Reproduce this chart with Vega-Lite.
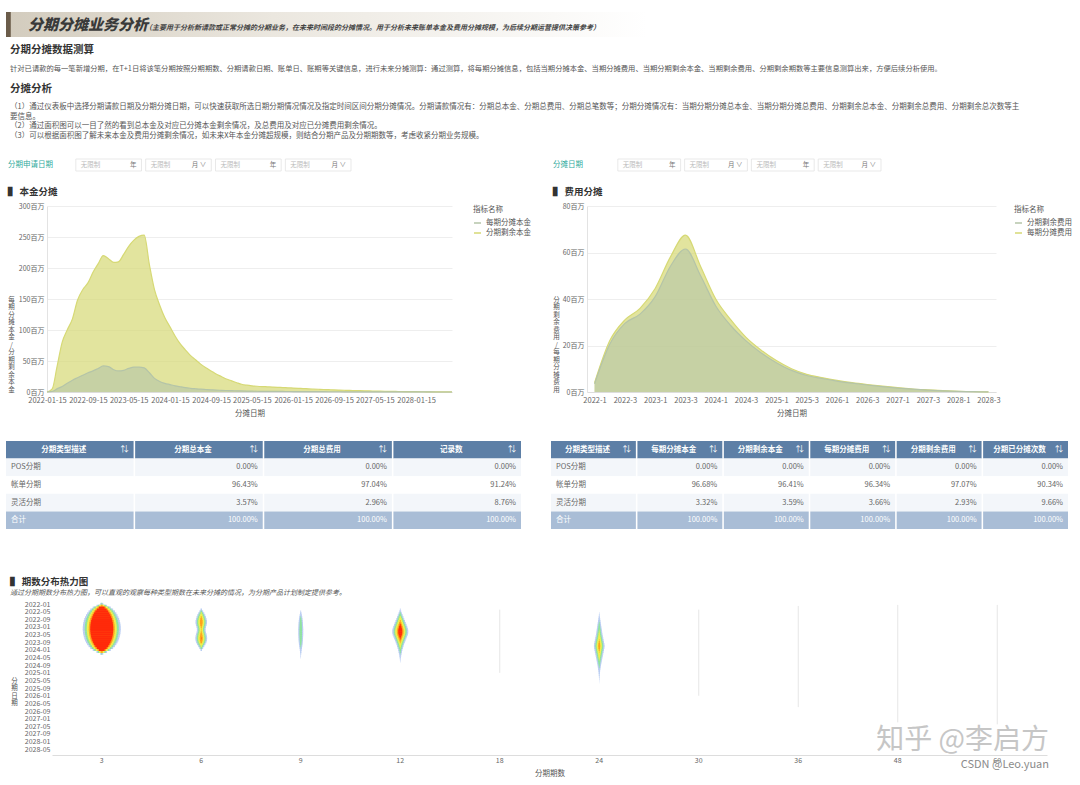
{
  "$schema": "https://vega.github.io/schema/vega-lite/v6.json",
  "background": "white",
  "padding": {"left": 6, "top": 12, "right": 4, "bottom": 0},
  "spacing": 8,
  "resolve": {"scale": {"color": "independent"}, "legend": {"color": "independent"}},
  "config": {
    "font": "Noto Sans CJK SC",
    "view": {"stroke": null},
    "axis": {"labelFontSize": 7, "labelColor": "#666", "titleFontSize": 7.5, "titleColor": "#555", "titleFontWeight": "normal", "ticks": false, "domainColor": "#dddddd", "gridColor": "#eeeeee"},
    "legend": {"titleFontSize": 7.5, "titleFontWeight": "normal", "titleColor": "#555", "labelFontSize": 7.5, "labelColor": "#555", "symbolType": "stroke", "symbolStrokeWidth": 1.5, "symbolSize": 50, "rowPadding": 2},
    "title": {"color": "#333", "fontWeight": "bold", "anchor": "start", "subtitleColor": "#555"}
  },
  "vconcat": [
    {
      "width": 1068, "height": 25,
      "view": {"stroke": null, "fill": {"gradient": "linear", "x1": 0, "y1": 0, "x2": 1, "y2": 0, "stops": [{"offset": 0, "color": "#6b5c4a"}, {"offset": 0.004, "color": "#6b5c4a"}, {"offset": 0.005, "color": "#d3ccbe"}, {"offset": 0.25, "color": "#ebe7df"}, {"offset": 0.6, "color": "#ffffff"}]}},
      "title": {"text": "分期分摊业务分析", "anchor": "start", "offset": -21, "dx": 22, "fontSize": 15, "fontWeight": 900, "fontStyle": "italic", "color": "#3a3a3a"},
      "data": {"values": [{"t": "（主要用于分析新请款或正常分摊的分期业务，在未来时间段的分摊情况。用于分析未来账单本金及费用分摊规模，为后续分期运营提供决策参考）"}]},
      "mark": {"type": "text", "align": "left", "dx": -395, "dy": 3, "fontSize": 7, "fontStyle": "italic", "fontWeight": "bold", "color": "#444"},
      "encoding": {"text": {"field": "t", "type": "nominal"}}
    },
    {
      "width": 1065, "height": 1,
      "data": {"values": []},
      "mark": "text",
      "title": {"text": "分期分摊数据测算", "dx": 4, "subtitle": "针对已请款的每一笔新增分期，在T+1日将该笔分期按照分期期数、分期请款日期、账单日、账期等关键信息，进行未来分摊测算：通过测算，将每期分摊信息，包括当期分摊本金、当期分摊费用、当期分期剩余本金、当期剩余费用、分期剩余期数等主要信息测算出来，方便后续分析使用。", "fontSize": 10.5, "subtitleFontSize": 7.3, "subtitlePadding": 9, "offset": 2}
    },
    {
      "width": 1065, "height": 9,
      "data": {"values": []},
      "mark": "text",
      "title": {"text": "分摊分析", "dx": 4, "subtitle": ["（1）通过仪表板中选择分期请款日期及分期分摊日期，可以快速获取所选日期分期情况情况及指定时间区间分期分摊情况。分期请款情况有：分期总本金、分期总费用、分期总笔数等；分期分摊情况有：当期分期分摊总本金、当期分期分摊总费用、分期剩余总本金、分期剩余总费用、分期剩余总次数等主", "要信息。", "（2）通过面积图可以一目了然的看到总本金及对应已分摊本金剩余情况，及总费用及对应已分摊费用剩余情况。", "（3）可以根据面积图了解未来本金及费用分摊剩余情况，如未来X年本金分摊超规模，则结合分期产品及分期期数等，考虑收紧分期业务规模。"], "fontSize": 10.5, "subtitleFontSize": 7.5, "subtitleLineHeight": 9.5, "subtitlePadding": 9, "offset": 2}
    },
    {
      "spacing": 20,
      "resolve": {"scale": {"color": "independent"}, "legend": {"color": "independent"}},
      "hconcat": [
        {
          "spacing": 24,
          "resolve": {"scale": {"color": "independent"}, "legend": {"color": "independent"}},
          "vconcat": [
            {
              "spacing": 14,
              "resolve": {"scale": {"color": "independent"}, "legend": {"color": "independent"}},
              "vconcat": [
                {
                  "width": 345, "height": 12,
                  "data": {"values": [{"b": "l", "t": "分期申请日期"}, {"b": "a", "t": "无限制", "u": "年"}, {"b": "b", "t": "无限制", "u": "月 ∨"}, {"b": "c", "t": "无限制", "u": "年"}, {"b": "d", "t": "无限制", "u": "月 ∨"}]},
                  "encoding": {"x": {"field": "b", "type": "ordinal", "scale": {"domain": ["l", "a", "b", "c", "d"], "paddingInner": 0.06, "paddingOuter": 0}, "axis": null}},
                  "layer": [
                    {"transform": [{"filter": "datum.b !== 'l'"}], "mark": {"type": "rect", "fill": "white", "stroke": "#e3e3e3", "strokeWidth": 0.8}},
                    {"transform": [{"filter": "datum.b === 'l'"}], "mark": {"type": "text", "align": "left", "dx": 2, "fontSize": 7.5, "color": "#2faa9c"}, "encoding": {"x": {"field": "b", "type": "ordinal", "bandPosition": 0}, "text": {"field": "t", "type": "nominal"}}},
                    {"transform": [{"filter": "datum.b !== 'l'"}], "mark": {"type": "text", "align": "left", "dx": 5, "fontSize": 6.5, "color": "#bbbbbb"}, "encoding": {"x": {"field": "b", "type": "ordinal", "bandPosition": 0}, "text": {"field": "t", "type": "nominal"}}},
                    {"transform": [{"filter": "datum.b !== 'l'"}], "mark": {"type": "text", "align": "right", "dx": -5, "fontSize": 6.5, "color": "#777777"}, "encoding": {"x": {"field": "b", "type": "ordinal", "bandPosition": 1}, "text": {"field": "u", "type": "nominal"}}}
                  ]
                },
                {
                  "spacing": 0,
                  "resolve": {"scale": {"color": "independent"}, "legend": {"color": "independent"}},
                  "hconcat": [
                    {"width": 1, "height": 1, "data": {"values": []}, "mark": "text"},
                    {
                      "width": 405, "height": 186,
                      "title": {"text": "▌ 本金分摊", "frame": "bounds", "fontSize": 9.5, "offset": 6},
                      "data": {"values": [
                        {"d":"2022-01-15","分期剩余本金":0,"每期分摊本金":0},{"d":"2022-02-15","分期剩余本金":5,"每期分摊本金":1},{"d":"2022-03-15","分期剩余本金":40,"每期分摊本金":5},{"d":"2022-04-15","分期剩余本金":80,"每期分摊本金":9},{"d":"2022-05-15","分期剩余本金":100,"每期分摊本金":14},{"d":"2022-06-15","分期剩余本金":118,"每期分摊本金":19},{"d":"2022-07-15","分期剩余本金":148,"每期分摊本金":23},{"d":"2022-08-15","分期剩余本金":165,"每期分摊本金":27},{"d":"2022-09-15","分期剩余本金":176,"每期分摊本金":31},{"d":"2022-10-15","分期剩余本金":193,"每期分摊本金":34},{"d":"2022-11-15","分期剩余本金":207,"每期分摊本金":38},{"d":"2022-12-15","分期剩余本金":220,"每期分摊本金":42},
                        {"d":"2023-01-15","分期剩余本金":215,"每期分摊本金":41},{"d":"2023-02-15","分期剩余本金":209,"每期分摊本金":36},{"d":"2023-03-15","分期剩余本金":210,"每期分摊本金":34},{"d":"2023-04-15","分期剩余本金":222,"每期分摊本金":35},{"d":"2023-05-15","分期剩余本金":235,"每期分摊本金":38},{"d":"2023-06-15","分期剩余本金":245,"每期分摊本金":40},{"d":"2023-07-15","分期剩余本金":251,"每期分摊本金":40},{"d":"2023-08-15","分期剩余本金":253,"每期分摊本金":39},{"d":"2023-09-15","分期剩余本金":205,"每期分摊本金":31},{"d":"2023-10-15","分期剩余本金":165,"每期分摊本金":22},{"d":"2023-11-15","分期剩余本金":140,"每期分摊本金":17},{"d":"2023-12-15","分期剩余本金":120,"每期分摊本金":14},
                        {"d":"2024-01-15","分期剩余本金":105,"每期分摊本金":12},{"d":"2024-02-15","分期剩余本金":90,"每期分摊本金":10},{"d":"2024-03-15","分期剩余本金":78,"每期分摊本金":8.5},{"d":"2024-04-15","分期剩余本金":68,"每期分摊本金":7},{"d":"2024-05-15","分期剩余本金":59,"每期分摊本金":6},{"d":"2024-06-15","分期剩余本金":52,"每期分摊本金":5.2},{"d":"2024-07-15","分期剩余本金":45,"每期分摊本金":4.5},{"d":"2024-08-15","分期剩余本金":39,"每期分摊本金":4},{"d":"2024-09-15","分期剩余本金":34,"每期分摊本金":3.5},{"d":"2024-10-15","分期剩余本金":29,"每期分摊本金":3},{"d":"2024-11-15","分期剩余本金":25,"每期分摊本金":2.7},{"d":"2024-12-15","分期剩余本金":21,"每期分摊本金":2.4},
                        {"d":"2025-01-15","分期剩余本金":18,"每期分摊本金":2.1},{"d":"2025-02-15","分期剩余本金":15,"每期分摊本金":1.9},{"d":"2025-03-15","分期剩余本金":12.5,"每期分摊本金":1.7},{"d":"2025-04-15","分期剩余本金":11,"每期分摊本金":1.5},{"d":"2025-05-15","分期剩余本金":10,"每期分摊本金":1.3},{"d":"2025-06-15","分期剩余本金":9.3,"每期分摊本金":1.2},{"d":"2025-07-15","分期剩余本金":8.8,"每期分摊本金":1.1},{"d":"2025-08-15","分期剩余本金":8.4,"每期分摊本金":1},{"d":"2025-09-15","分期剩余本金":8,"每期分摊本金":0.95},{"d":"2025-10-15","分期剩余本金":7.6,"每期分摊本金":0.9},{"d":"2025-11-15","分期剩余本金":7.2,"每期分摊本金":0.85},{"d":"2025-12-15","分期剩余本金":6.8,"每期分摊本金":0.8},
                        {"d":"2026-01-15","分期剩余本金":6.4,"每期分摊本金":0.75},{"d":"2026-02-15","分期剩余本金":6,"每期分摊本金":0.7},{"d":"2026-03-15","分期剩余本金":5.6,"每期分摊本金":0.65},{"d":"2026-04-15","分期剩余本金":5.2,"每期分摊本金":0.6},{"d":"2026-05-15","分期剩余本金":4.8,"每期分摊本金":0.55},{"d":"2026-06-15","分期剩余本金":4.4,"每期分摊本金":0.5},{"d":"2026-07-15","分期剩余本金":4,"每期分摊本金":0.47},{"d":"2026-08-15","分期剩余本金":3.7,"每期分摊本金":0.44},{"d":"2026-09-15","分期剩余本金":3.4,"每期分摊本金":0.41},{"d":"2026-10-15","分期剩余本金":3.1,"每期分摊本金":0.38},{"d":"2026-11-15","分期剩余本金":2.8,"每期分摊本金":0.35},{"d":"2026-12-15","分期剩余本金":2.5,"每期分摊本金":0.32},
                        {"d":"2027-01-15","分期剩余本金":2.3,"每期分摊本金":0.3},{"d":"2027-02-15","分期剩余本金":2.1,"每期分摊本金":0.28},{"d":"2027-03-15","分期剩余本金":1.9,"每期分摊本金":0.26},{"d":"2027-04-15","分期剩余本金":1.7,"每期分摊本金":0.24},{"d":"2027-05-15","分期剩余本金":1.5,"每期分摊本金":0.22},{"d":"2027-06-15","分期剩余本金":1.35,"每期分摊本金":0.2},{"d":"2027-07-15","分期剩余本金":1.2,"每期分摊本金":0.18},{"d":"2027-08-15","分期剩余本金":1.05,"每期分摊本金":0.16},{"d":"2027-09-15","分期剩余本金":0.9,"每期分摊本金":0.14},{"d":"2027-10-15","分期剩余本金":0.8,"每期分摊本金":0.12},{"d":"2027-11-15","分期剩余本金":0.7,"每期分摊本金":0.1},{"d":"2027-12-15","分期剩余本金":0.6,"每期分摊本金":0.09},
                        {"d":"2028-01-15","分期剩余本金":0.5,"每期分摊本金":0.08},{"d":"2028-02-15","分期剩余本金":0.42,"每期分摊本金":0.07},{"d":"2028-03-15","分期剩余本金":0.35,"每期分摊本金":0.06},{"d":"2028-04-15","分期剩余本金":0.28,"每期分摊本金":0.05},{"d":"2028-05-15","分期剩余本金":0.22,"每期分摊本金":0.04},{"d":"2028-06-15","分期剩余本金":0.16,"每期分摊本金":0.03},{"d":"2028-07-15","分期剩余本金":0.1,"每期分摊本金":0.02},{"d":"2028-08-15","分期剩余本金":0.05,"每期分摊本金":0.01}
                      ]},
                      "transform": [{"fold": ["分期剩余本金", "每期分摊本金"], "as": ["指标名称", "val"]}],
                      "encoding": {
                        "x": {"field": "d", "type": "temporal", "scale": {"type": "utc", "nice": false, "domain": [{"year": 2022, "month": 1, "date": 15, "utc": true}, {"year": 2028, "month": 8, "date": 15, "utc": true}]},
                          "axis": {"title": "分摊日期", "format": "%Y-%m-%d", "labelOverlap": false, "labelFlush": false, "grid": false, "labelPadding": 4, "titlePadding": 6, "labelFontSize": 7.5,
                            "values": [{"year": 2022, "month": 1, "date": 15, "utc": true}, {"year": 2022, "month": 9, "date": 15, "utc": true}, {"year": 2023, "month": 5, "date": 15, "utc": true}, {"year": 2024, "month": 1, "date": 15, "utc": true}, {"year": 2024, "month": 9, "date": 15, "utc": true}, {"year": 2025, "month": 5, "date": 15, "utc": true}, {"year": 2026, "month": 1, "date": 15, "utc": true}, {"year": 2026, "month": 9, "date": 15, "utc": true}, {"year": 2027, "month": 5, "date": 15, "utc": true}, {"year": 2028, "month": 1, "date": 15, "utc": true}]}},
                        "y": {"field": "val", "type": "quantitative", "stack": null, "scale": {"domain": [0, 300], "nice": false}, "axis": {"values": [0, 50, 100, 150, 200, 250, 300], "labelExpr": "datum.value + '百万'", "labelOverlap": false, "grid": true, "domain": true, "domainColor": "#e3e3e3", "labelPadding": 3, "titleAngle": 0, "titleAlign": "center", "titleBaseline": "middle", "titleX": -36, "titleY": 93, "titleLineHeight": 7.5, "titleFontSize": 6.5, "title": ["每","期","分","摊","本","金","/","分","期","剩","余","本","金"]}},
                        "color": {"field": "指标名称", "type": "nominal", "scale": {"domain": ["每期分摊本金", "分期剩余本金"], "range": ["#b4c4a8", "#d6d975"]}, "legend": {"title": "指标名称", "orient": "right", "offset": 18}}
                      },
                      "layer": [
                        {"transform": [{"filter": "datum['指标名称'] === '分期剩余本金'"}], "mark": {"type": "area", "interpolate": "monotone", "fillOpacity": 0.7, "line": {"strokeWidth": 1.2}}},
                        {"transform": [{"filter": "datum['指标名称'] === '每期分摊本金'"}], "mark": {"type": "area", "interpolate": "monotone", "fillOpacity": 0.6, "line": {"strokeWidth": 1.2, "color": "#a6b788"}}}
                      ]
                    }
                  ]
                }
              ]
            },
            {
              "width": 515, "height": 88,
              "data": {"values": [
                {"r":"表头","c":"分期类型描述"},{"r":"表头","c":"分期总本金"},{"r":"表头","c":"分期总费用"},{"r":"表头","c":"记录数"},
                {"r":"POS分期","c":"分期类型描述"},{"r":"POS分期","c":"分期总本金","v":0},{"r":"POS分期","c":"分期总费用","v":0},{"r":"POS分期","c":"记录数","v":0},
                {"r":"帐单分期","c":"分期类型描述"},{"r":"帐单分期","c":"分期总本金","v":0.9643},{"r":"帐单分期","c":"分期总费用","v":0.9704},{"r":"帐单分期","c":"记录数","v":0.9124},
                {"r":"灵活分期","c":"分期类型描述"},{"r":"灵活分期","c":"分期总本金","v":0.0357},{"r":"灵活分期","c":"分期总费用","v":0.0296},{"r":"灵活分期","c":"记录数","v":0.0876},
                {"r":"合计","c":"分期类型描述"},{"r":"合计","c":"分期总本金","v":1},{"r":"合计","c":"分期总费用","v":1},{"r":"合计","c":"记录数","v":1}
              ]},
              "encoding": {
                "x": {"field": "c", "type": "ordinal", "scale": {"domain": ["分期类型描述","分期总本金","分期总费用","记录数"], "paddingInner": 0.012, "paddingOuter": 0}, "axis": null},
                "y": {"field": "r", "type": "ordinal", "scale": {"domain": ["表头","POS分期","帐单分期","灵活分期","合计"], "paddingInner": 0, "paddingOuter": 0}, "axis": null}
              },
              "layer": [
                {"mark": {"type": "rect"}, "encoding": {"color": {"condition": [{"test": "datum.r === '表头'", "value": "#5d7fa6"}, {"test": "datum.r === '合计'", "value": "#a9bdd6"}, {"test": "datum.r === '帐单分期'", "value": "#ffffff"}], "value": "#f3f6fa"}}},
                {"transform": [{"filter": "datum.r === '表头'"}], "mark": {"type": "text", "fontSize": 7.5, "fontWeight": "bold", "color": "white", "dx": -6}, "encoding": {"text": {"field": "c", "type": "nominal"}}},
                {"transform": [{"filter": "datum.r === '表头'"}], "mark": {"type": "text", "fontSize": 8, "color": "white", "dx": -9}, "encoding": {"x": {"field": "c", "type": "ordinal", "bandPosition": 1}, "text": {"value": "⇅"}}},
                {"transform": [{"filter": "datum.r !== '表头' && datum.c === '分期类型描述'"}], "mark": {"type": "text", "fontSize": 7.5, "align": "left", "dx": 5}, "encoding": {"x": {"field": "c", "type": "ordinal", "bandPosition": 0}, "text": {"field": "r", "type": "nominal"}, "color": {"condition": {"test": "datum.r === '合计'", "value": "white"}, "value": "#666"}}},
                {"transform": [{"filter": "datum.r !== '表头' && datum.c !== '分期类型描述'"}], "mark": {"type": "text", "fontSize": 7.5, "align": "right", "dx": -5}, "encoding": {"x": {"field": "c", "type": "ordinal", "bandPosition": 1}, "text": {"field": "v", "type": "quantitative", "format": ".2%"}, "color": {"condition": {"test": "datum.r === '合计'", "value": "white"}, "value": "#666"}}}
              ]
            }
          ]
        },
        {
          "spacing": 24,
          "resolve": {"scale": {"color": "independent"}, "legend": {"color": "independent"}},
          "vconcat": [
            {
              "spacing": 14,
              "resolve": {"scale": {"color": "independent"}, "legend": {"color": "independent"}},
              "vconcat": [
                {
                  "width": 330, "height": 12,
                  "data": {"values": [{"b": "l", "t": "分摊日期"}, {"b": "a", "t": "无限制", "u": "年"}, {"b": "b", "t": "无限制", "u": "月 ∨"}, {"b": "c", "t": "无限制", "u": "年"}, {"b": "d", "t": "无限制", "u": "月 ∨"}]},
                  "encoding": {"x": {"field": "b", "type": "ordinal", "scale": {"domain": ["l", "a", "b", "c", "d"], "paddingInner": 0.06, "paddingOuter": 0}, "axis": null}},
                  "layer": [
                    {"transform": [{"filter": "datum.b !== 'l'"}], "mark": {"type": "rect", "fill": "white", "stroke": "#e3e3e3", "strokeWidth": 0.8}},
                    {"transform": [{"filter": "datum.b === 'l'"}], "mark": {"type": "text", "align": "left", "dx": 2, "fontSize": 7.5, "color": "#2faa9c"}, "encoding": {"x": {"field": "b", "type": "ordinal", "bandPosition": 0}, "text": {"field": "t", "type": "nominal"}}},
                    {"transform": [{"filter": "datum.b !== 'l'"}], "mark": {"type": "text", "align": "left", "dx": 5, "fontSize": 6.5, "color": "#bbbbbb"}, "encoding": {"x": {"field": "b", "type": "ordinal", "bandPosition": 0}, "text": {"field": "t", "type": "nominal"}}},
                    {"transform": [{"filter": "datum.b !== 'l'"}], "mark": {"type": "text", "align": "right", "dx": -5, "fontSize": 6.5, "color": "#777777"}, "encoding": {"x": {"field": "b", "type": "ordinal", "bandPosition": 1}, "text": {"field": "u", "type": "nominal"}}}
                  ]
                },
                {
                  "spacing": 0,
                  "resolve": {"scale": {"color": "independent"}, "legend": {"color": "independent"}},
                  "hconcat": [
                    {"width": 1, "height": 1, "data": {"values": []}, "mark": "text"},
                    {
                      "width": 409, "height": 186,
                      "title": {"text": "▌ 费用分摊", "frame": "bounds", "fontSize": 9.5, "offset": 6},
                      "data": {"values": [
                        {"q":"2022-1","每期分摊费用":4,"分期剩余费用":3.5},{"q":"2022-2","每期分摊费用":22,"分期剩余费用":20.5},{"q":"2022-3","每期分摊费用":31,"分期剩余费用":29.5},{"q":"2022-4","每期分摊费用":36,"分期剩余费用":33.5},
                        {"q":"2023-1","每期分摊费用":44.5,"分期剩余费用":41},{"q":"2023-2","每期分摊费用":58,"分期剩余费用":54},{"q":"2023-3","每期分摊费用":67.5,"分期剩余费用":61.5},{"q":"2023-4","每期分摊费用":54,"分期剩余费用":50},
                        {"q":"2024-1","每期分摊费用":40,"分期剩余费用":37},{"q":"2024-2","每期分摊费用":31,"分期剩余费用":28.5},{"q":"2024-3","每期分摊费用":23.5,"分期剩余费用":22},{"q":"2024-4","每期分摊费用":18,"分期剩余费用":16.8},
                        {"q":"2025-1","每期分摊费用":13.5,"分期剩余费用":12.6},{"q":"2025-2","每期分摊费用":10,"分期剩余费用":9.3},{"q":"2025-3","每期分摊费用":7.6,"分期剩余费用":7.1},{"q":"2025-4","每期分摊费用":6.2,"分期剩余费用":5.8},
                        {"q":"2026-1","每期分摊费用":5,"分期剩余费用":4.7},{"q":"2026-2","每期分摊费用":4,"分期剩余费用":3.8},{"q":"2026-3","每期分摊费用":3.2,"分期剩余费用":3},{"q":"2026-4","每期分摊费用":2.5,"分期剩余费用":2.3},
                        {"q":"2027-1","每期分摊费用":1.9,"分期剩余费用":1.7},{"q":"2027-2","每期分摊费用":1.3,"分期剩余费用":1.2},{"q":"2027-3","每期分摊费用":0.9,"分期剩余费用":0.8},{"q":"2027-4","每期分摊费用":0.55,"分期剩余费用":0.5},
                        {"q":"2028-1","每期分摊费用":0.3,"分期剩余费用":0.27},{"q":"2028-2","每期分摊费用":0.15,"分期剩余费用":0.13},{"q":"2028-3","每期分摊费用":0.05,"分期剩余费用":0.04}
                      ]},
                      "transform": [{"fold": ["每期分摊费用", "分期剩余费用"], "as": ["指标名称", "val"]}],
                      "encoding": {
                        "x": {"field": "q", "type": "ordinal", "sort": null, "scale": {"type": "point", "padding": 0.5},
                          "axis": {"title": "分摊日期", "labelAngle": 0, "labelOverlap": false, "grid": false, "labelPadding": 4, "titlePadding": 6, "labelFontSize": 7.5, "values": ["2022-1","2022-3","2023-1","2023-3","2024-1","2024-3","2025-1","2025-3","2026-1","2026-3","2027-1","2027-3","2028-1","2028-3"]}},
                        "y": {"field": "val", "type": "quantitative", "stack": null, "scale": {"domain": [0, 80], "nice": false}, "axis": {"values": [0, 20, 40, 60, 80], "labelExpr": "datum.value + '百万'", "labelOverlap": false, "grid": true, "domain": true, "domainColor": "#e3e3e3", "labelPadding": 3, "titleAngle": 0, "titleAlign": "center", "titleBaseline": "middle", "titleX": -31, "titleY": 93, "titleLineHeight": 7.5, "titleFontSize": 6.5, "title": ["分","期","剩","余","费","用","/","每","期","分","摊","费","用"]}},
                        "color": {"field": "指标名称", "type": "nominal", "scale": {"domain": ["分期剩余费用", "每期分摊费用"], "range": ["#b4c4a8", "#d6d975"]}, "legend": {"title": "指标名称", "orient": "right", "offset": 18}}
                      },
                      "layer": [
                        {"transform": [{"filter": "datum['指标名称'] === '每期分摊费用'"}], "mark": {"type": "area", "interpolate": "monotone", "fillOpacity": 0.7, "line": {"strokeWidth": 1.2}}},
                        {"transform": [{"filter": "datum['指标名称'] === '分期剩余费用'"}], "mark": {"type": "area", "interpolate": "monotone", "fillOpacity": 0.6, "line": {"strokeWidth": 1.2, "color": "#a6b788"}}}
                      ]
                    }
                  ]
                }
              ]
            },
            {
              "width": 517, "height": 88,
              "data": {"values": [
                {"r":"表头","c":"分期类型描述"},{"r":"表头","c":"每期分摊本金"},{"r":"表头","c":"分期剩余本金"},{"r":"表头","c":"每期分摊费用"},{"r":"表头","c":"分期剩余费用"},{"r":"表头","c":"分期已分摊次数"},
                {"r":"POS分期","c":"分期类型描述"},{"r":"POS分期","c":"每期分摊本金","v":0},{"r":"POS分期","c":"分期剩余本金","v":0},{"r":"POS分期","c":"每期分摊费用","v":0},{"r":"POS分期","c":"分期剩余费用","v":0},{"r":"POS分期","c":"分期已分摊次数","v":0},
                {"r":"帐单分期","c":"分期类型描述"},{"r":"帐单分期","c":"每期分摊本金","v":0.9668},{"r":"帐单分期","c":"分期剩余本金","v":0.9641},{"r":"帐单分期","c":"每期分摊费用","v":0.9634},{"r":"帐单分期","c":"分期剩余费用","v":0.9707},{"r":"帐单分期","c":"分期已分摊次数","v":0.9034},
                {"r":"灵活分期","c":"分期类型描述"},{"r":"灵活分期","c":"每期分摊本金","v":0.0332},{"r":"灵活分期","c":"分期剩余本金","v":0.0359},{"r":"灵活分期","c":"每期分摊费用","v":0.0366},{"r":"灵活分期","c":"分期剩余费用","v":0.0293},{"r":"灵活分期","c":"分期已分摊次数","v":0.0966},
                {"r":"合计","c":"分期类型描述"},{"r":"合计","c":"每期分摊本金","v":1},{"r":"合计","c":"分期剩余本金","v":1},{"r":"合计","c":"每期分摊费用","v":1},{"r":"合计","c":"分期剩余费用","v":1},{"r":"合计","c":"分期已分摊次数","v":1}
              ]},
              "encoding": {
                "x": {"field": "c", "type": "ordinal", "scale": {"domain": ["分期类型描述","每期分摊本金","分期剩余本金","每期分摊费用","分期剩余费用","分期已分摊次数"], "paddingInner": 0.018, "paddingOuter": 0}, "axis": null},
                "y": {"field": "r", "type": "ordinal", "scale": {"domain": ["表头","POS分期","帐单分期","灵活分期","合计"], "paddingInner": 0, "paddingOuter": 0}, "axis": null}
              },
              "layer": [
                {"mark": {"type": "rect"}, "encoding": {"color": {"condition": [{"test": "datum.r === '表头'", "value": "#5d7fa6"}, {"test": "datum.r === '合计'", "value": "#a9bdd6"}, {"test": "datum.r === '帐单分期'", "value": "#ffffff"}], "value": "#f3f6fa"}}},
                {"transform": [{"filter": "datum.r === '表头'"}], "mark": {"type": "text", "fontSize": 7.5, "fontWeight": "bold", "color": "white", "dx": -6}, "encoding": {"text": {"field": "c", "type": "nominal"}}},
                {"transform": [{"filter": "datum.r === '表头'"}], "mark": {"type": "text", "fontSize": 8, "color": "white", "dx": -9}, "encoding": {"x": {"field": "c", "type": "ordinal", "bandPosition": 1}, "text": {"value": "⇅"}}},
                {"transform": [{"filter": "datum.r !== '表头' && datum.c === '分期类型描述'"}], "mark": {"type": "text", "fontSize": 7.5, "align": "left", "dx": 5}, "encoding": {"x": {"field": "c", "type": "ordinal", "bandPosition": 0}, "text": {"field": "r", "type": "nominal"}, "color": {"condition": {"test": "datum.r === '合计'", "value": "white"}, "value": "#666"}}},
                {"transform": [{"filter": "datum.r !== '表头' && datum.c !== '分期类型描述'"}], "mark": {"type": "text", "fontSize": 7.5, "align": "right", "dx": -5}, "encoding": {"x": {"field": "c", "type": "ordinal", "bandPosition": 1}, "text": {"field": "v", "type": "quantitative", "format": ".2%"}, "color": {"condition": {"test": "datum.r === '合计'", "value": "white"}, "value": "#666"}}}
              ]
            }
          ]
        }
      ]
    },
    {
      "width": 10, "height": 31,
      "data": {"values": []},
      "mark": "text"
    },
    {
      "title": {"text": "▌ 期数分布热力图", "subtitle": "通过分期期数分布热力图，可以直观的观察每种类型期数在未来分摊的情况，为分期产品计划制定提供参考。", "fontSize": 9.5, "subtitleFontSize": 7, "subtitleFontStyle": "italic", "subtitlePadding": 3, "offset": 4, "dx": 4},
      "spacing": 3,
      "hconcat": [
        {"width": 1, "height": 1, "data": {"values": []}, "mark": "text"},
        {
          "width": 995, "height": 151,
          "title": {"text": "知乎 @李启方", "subtitle": "CSDN @Leo.yuan", "orient": "bottom", "anchor": "end", "frame": "bounds", "dx": 2, "fontSize": 28, "fontWeight": "normal", "color": "#c6c6c6", "subtitleFontSize": 11, "subtitleColor": "#8a8a8a", "subtitlePadding": 4, "offset": -50},
          "encoding": {
            "x": {"field": "p", "type": "ordinal", "title": "分期期数", "scale": {"domain": [3, 6, 9, 12, 18, 24, 30, 36, 48, 60], "paddingInner": 0, "paddingOuter": 0}, "axis": {"labelAngle": 0, "labelFontSize": 7, "labelPadding": 1, "titlePadding": 6, "domainColor": "#dddddd", "grid": false}},
            "y": {"field": "m", "type": "temporal", "title": ["分","期","日","期"], "scale": {"type": "utc", "reverse": true, "nice": false, "domain": [{"year": 2022, "month": 1, "date": 1, "utc": true}, {"year": 2028, "month": 8, "date": 1, "utc": true}]},
              "axis": {"format": "%Y-%m", "labelOverlap": false, "grid": false, "domain": false, "labelFontSize": 7, "labelPadding": 2, "titleAngle": 0, "titleAlign": "center", "titleBaseline": "middle", "titleX": -38, "titleY": 76, "titleLineHeight": 7.5, "titleFontSize": 6.5,
                "values": [{"year":2022,"month":1,"date":1,"utc":true},{"year":2022,"month":5,"date":1,"utc":true},{"year":2022,"month":9,"date":1,"utc":true},{"year":2023,"month":1,"date":1,"utc":true},{"year":2023,"month":5,"date":1,"utc":true},{"year":2023,"month":9,"date":1,"utc":true},{"year":2024,"month":1,"date":1,"utc":true},{"year":2024,"month":5,"date":1,"utc":true},{"year":2024,"month":9,"date":1,"utc":true},{"year":2025,"month":1,"date":1,"utc":true},{"year":2025,"month":5,"date":1,"utc":true},{"year":2025,"month":9,"date":1,"utc":true},{"year":2026,"month":1,"date":1,"utc":true},{"year":2026,"month":5,"date":1,"utc":true},{"year":2026,"month":9,"date":1,"utc":true},{"year":2027,"month":1,"date":1,"utc":true},{"year":2027,"month":5,"date":1,"utc":true},{"year":2027,"month":9,"date":1,"utc":true},{"year":2028,"month":1,"date":1,"utc":true},{"year":2028,"month":5,"date":1,"utc":true}]}}
          },
          "layer": [
            {
              "data": {"values": [
                {"p":18,"m":"2022-04-01","e":"2025-01-01"},{"p":30,"m":"2022-04-01","e":"2026-01-01"},{"p":36,"m":"2022-02-01","e":"2026-07-01"},{"p":48,"m":"2022-01-15","e":"2027-03-01"},{"p":60,"m":"2022-01-15","e":"2027-04-01"}
              ]},
              "mark": {"type": "rule", "color": "#e6e6e6", "strokeWidth": 1},
              "encoding": {"y2": {"field": "e"}}
            },
            {
              "data": {"name": "heat"},
              "mark": {"type": "tick", "thickness": 2.3, "opacity": 1, "color": "#b9cdf2"},
              "encoding": {"size": {"field": "v", "type": "quantitative", "scale": {"domain": [0, 1], "range": [0, 38], "clamp": true, "zero": false}, "legend": null}}
            },
            {
              "data": {"name": "heat"},
              "mark": {"type": "tick", "thickness": 2.3, "opacity": 1, "color": "#8fe39f"},
              "encoding": {"size": {"field": "v", "type": "quantitative", "scale": {"domain": [0.06, 1], "range": [0, 34], "clamp": true, "zero": false}, "legend": null}}
            },
            {
              "data": {"name": "heat"},
              "mark": {"type": "tick", "thickness": 2.3, "opacity": 1, "color": "#f2ef4c"},
              "encoding": {"size": {"field": "v", "type": "quantitative", "scale": {"domain": [0.13, 1], "range": [0, 30], "clamp": true, "zero": false}, "legend": null}}
            },
            {
              "data": {"name": "heat"},
              "mark": {"type": "tick", "thickness": 2.3, "opacity": 1, "color": "#ffa31c"},
              "encoding": {"size": {"field": "v", "type": "quantitative", "scale": {"domain": [0.22, 1], "range": [0, 26], "clamp": true, "zero": false}, "legend": null}}
            },
            {
              "data": {"name": "heat"},
              "mark": {"type": "tick", "thickness": 2.3, "opacity": 1, "color": "#ff2a0a"},
              "encoding": {"size": {"field": "v", "type": "quantitative", "scale": {"domain": [0.3, 1], "range": [0, 23], "clamp": true, "zero": false}, "legend": null}}
            }
          ],
          "resolve": {"scale": {"size": "independent"}}
        }
      ]
    }
  ],
  "datasets": {
    "heat": [
      {"p":3,"m":"2022-01-01","v":0.08},{"p":3,"m":"2022-02-01","v":0.28},{"p":3,"m":"2022-03-01","v":0.475},{"p":3,"m":"2022-04-01","v":0.6},{"p":3,"m":"2022-05-01","v":0.694},{"p":3,"m":"2022-06-01","v":0.768},{"p":3,"m":"2022-07-01","v":0.828},{"p":3,"m":"2022-08-01","v":0.877},{"p":3,"m":"2022-09-01","v":0.917},{"p":3,"m":"2022-10-01","v":0.947},{"p":3,"m":"2022-11-01","v":0.971},{"p":3,"m":"2022-12-01","v":0.987},{"p":3,"m":"2023-01-01","v":0.997},{"p":3,"m":"2023-02-01","v":1},{"p":3,"m":"2023-03-01","v":0.997},{"p":3,"m":"2023-04-01","v":0.987},{"p":3,"m":"2023-05-01","v":0.971},{"p":3,"m":"2023-06-01","v":0.947},{"p":3,"m":"2023-07-01","v":0.917},{"p":3,"m":"2023-08-01","v":0.877},{"p":3,"m":"2023-09-01","v":0.828},{"p":3,"m":"2023-10-01","v":0.768},{"p":3,"m":"2023-11-01","v":0.694},{"p":3,"m":"2023-12-01","v":0.6},{"p":3,"m":"2024-01-01","v":0.475},{"p":3,"m":"2024-02-01","v":0.28},{"p":3,"m":"2024-03-01","v":0.08},
      {"p":6,"m":"2022-04-01","v":0.04},{"p":6,"m":"2022-05-01","v":0.1},{"p":6,"m":"2022-06-01","v":0.16},{"p":6,"m":"2022-07-01","v":0.21},{"p":6,"m":"2022-08-01","v":0.25},{"p":6,"m":"2022-09-01","v":0.28},{"p":6,"m":"2022-10-01","v":0.3},{"p":6,"m":"2022-11-01","v":0.3},{"p":6,"m":"2022-12-01","v":0.28},{"p":6,"m":"2023-01-01","v":0.25},{"p":6,"m":"2023-02-01","v":0.23},{"p":6,"m":"2023-03-01","v":0.23},{"p":6,"m":"2023-04-01","v":0.25},{"p":6,"m":"2023-05-01","v":0.28},{"p":6,"m":"2023-06-01","v":0.3},{"p":6,"m":"2023-07-01","v":0.31},{"p":6,"m":"2023-08-01","v":0.3},{"p":6,"m":"2023-09-01","v":0.27},{"p":6,"m":"2023-10-01","v":0.22},{"p":6,"m":"2023-11-01","v":0.16},{"p":6,"m":"2023-12-01","v":0.1},{"p":6,"m":"2024-01-01","v":0.04},
      {"p":9,"m":"2022-05-01","v":0.02},{"p":9,"m":"2022-06-01","v":0.04},{"p":9,"m":"2022-07-01","v":0.06},{"p":9,"m":"2022-08-01","v":0.08},{"p":9,"m":"2022-09-01","v":0.095},{"p":9,"m":"2022-10-01","v":0.105},{"p":9,"m":"2022-11-01","v":0.115},{"p":9,"m":"2022-12-01","v":0.12},{"p":9,"m":"2023-01-01","v":0.125},{"p":9,"m":"2023-02-01","v":0.13},{"p":9,"m":"2023-03-01","v":0.13},{"p":9,"m":"2023-04-01","v":0.13},{"p":9,"m":"2023-05-01","v":0.13},{"p":9,"m":"2023-06-01","v":0.125},{"p":9,"m":"2023-07-01","v":0.12},{"p":9,"m":"2023-08-01","v":0.115},{"p":9,"m":"2023-09-01","v":0.105},{"p":9,"m":"2023-10-01","v":0.095},{"p":9,"m":"2023-11-01","v":0.08},{"p":9,"m":"2023-12-01","v":0.065},{"p":9,"m":"2024-01-01","v":0.05},{"p":9,"m":"2024-02-01","v":0.035},{"p":9,"m":"2024-03-01","v":0.025},{"p":9,"m":"2024-04-01","v":0.015},{"p":9,"m":"2024-05-01","v":0.01},
      {"p":12,"m":"2022-04-01","v":0.02},{"p":12,"m":"2022-05-01","v":0.05},{"p":12,"m":"2022-06-01","v":0.09},{"p":12,"m":"2022-07-01","v":0.13},{"p":12,"m":"2022-08-01","v":0.17},{"p":12,"m":"2022-09-01","v":0.21},{"p":12,"m":"2022-10-01","v":0.25},{"p":12,"m":"2022-11-01","v":0.29},{"p":12,"m":"2022-12-01","v":0.33},{"p":12,"m":"2023-01-01","v":0.37},{"p":12,"m":"2023-02-01","v":0.4},{"p":12,"m":"2023-03-01","v":0.42},{"p":12,"m":"2023-04-01","v":0.42},{"p":12,"m":"2023-05-01","v":0.4},{"p":12,"m":"2023-06-01","v":0.36},{"p":12,"m":"2023-07-01","v":0.32},{"p":12,"m":"2023-08-01","v":0.28},{"p":12,"m":"2023-09-01","v":0.24},{"p":12,"m":"2023-10-01","v":0.2},{"p":12,"m":"2023-11-01","v":0.17},{"p":12,"m":"2023-12-01","v":0.14},{"p":12,"m":"2024-01-01","v":0.11},{"p":12,"m":"2024-02-01","v":0.09},{"p":12,"m":"2024-03-01","v":0.07},{"p":12,"m":"2024-04-01","v":0.05},{"p":12,"m":"2024-05-01","v":0.035},{"p":12,"m":"2024-06-01","v":0.02},{"p":12,"m":"2024-07-01","v":0.01},
      {"p":24,"m":"2022-06-01","v":0.01},{"p":24,"m":"2022-07-01","v":0.02},{"p":24,"m":"2022-08-01","v":0.035},{"p":24,"m":"2022-09-01","v":0.05},{"p":24,"m":"2022-10-01","v":0.065},{"p":24,"m":"2022-11-01","v":0.08},{"p":24,"m":"2022-12-01","v":0.095},{"p":24,"m":"2023-01-01","v":0.11},{"p":24,"m":"2023-02-01","v":0.125},{"p":24,"m":"2023-03-01","v":0.14},{"p":24,"m":"2023-04-01","v":0.155},{"p":24,"m":"2023-05-01","v":0.17},{"p":24,"m":"2023-06-01","v":0.19},{"p":24,"m":"2023-07-01","v":0.21},{"p":24,"m":"2023-08-01","v":0.23},{"p":24,"m":"2023-09-01","v":0.25},{"p":24,"m":"2023-10-01","v":0.27},{"p":24,"m":"2023-11-01","v":0.28},{"p":24,"m":"2023-12-01","v":0.27},{"p":24,"m":"2024-01-01","v":0.25},{"p":24,"m":"2024-02-01","v":0.23},{"p":24,"m":"2024-03-01","v":0.21},{"p":24,"m":"2024-04-01","v":0.19},{"p":24,"m":"2024-05-01","v":0.17},{"p":24,"m":"2024-06-01","v":0.15},{"p":24,"m":"2024-07-01","v":0.13},{"p":24,"m":"2024-08-01","v":0.11},{"p":24,"m":"2024-09-01","v":0.09},{"p":24,"m":"2024-10-01","v":0.075},{"p":24,"m":"2024-11-01","v":0.06},{"p":24,"m":"2024-12-01","v":0.045},{"p":24,"m":"2025-01-01","v":0.035},{"p":24,"m":"2025-02-01","v":0.025},{"p":24,"m":"2025-03-01","v":0.018},{"p":24,"m":"2025-04-01","v":0.012},{"p":24,"m":"2025-05-01","v":0.007},{"p":24,"m":"2025-06-01","v":0.004}
    ]
  }
}
